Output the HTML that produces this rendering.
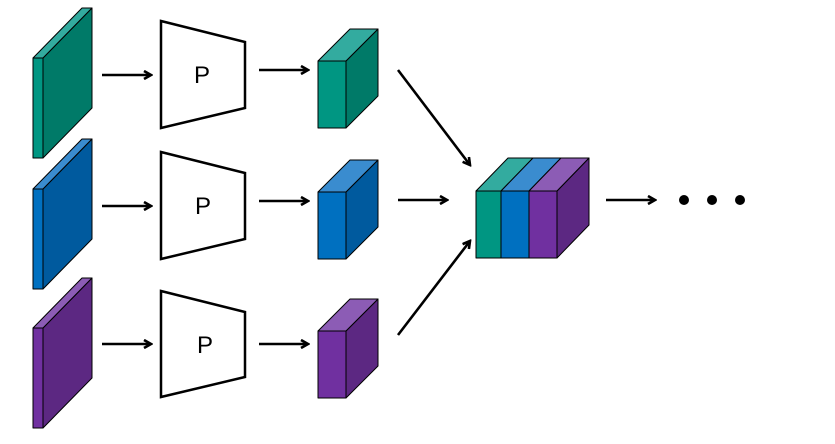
<!DOCTYPE html>
<html><head><meta charset="utf-8"><style>html,body{margin:0;padding:0;background:#fff}</style></head>
<body>
<svg width="835" height="439" viewBox="0 0 835 439" xmlns="http://www.w3.org/2000/svg">
<defs>
<marker id="ah" markerWidth="10" markerHeight="10" refX="8" refY="5" orient="auto" markerUnits="userSpaceOnUse">
<path d="M1,1 L8,5 L1,9" fill="none" stroke="#000" stroke-width="2.6"/>
</marker>
<g id="row" stroke="#000" stroke-width="1">
</g>
</defs>
<g stroke="#000" stroke-width="1" stroke-linejoin="round">
<!-- row 1 -->
<g transform="translate(0,0)">
<polygon points="43,58 92,8 92,108 43,158" fill="#007a68"/>
<polygon points="33,58 82,8 92,8 43,58" fill="#33ab9f"/>
<rect x="33" y="58" width="10" height="100" fill="#009682"/>
<polygon points="346,61 378,29 378,96 346,128" fill="#007a68"/>
<polygon points="318,61 350,29 378,29 346,61" fill="#33ab9f"/>
<rect x="318" y="61" width="28" height="67" fill="#009682"/>
</g>
<g transform="translate(0,131)">
<polygon points="43,58 92,8 92,108 43,158" fill="#005a9e"/>
<polygon points="33,58 82,8 92,8 43,58" fill="#3a8ccf"/>
<rect x="33" y="58" width="10" height="100" fill="#0070c0"/>
<polygon points="346,61 378,29 378,96 346,128" fill="#005a9e"/>
<polygon points="318,61 350,29 378,29 346,61" fill="#3a8ccf"/>
<rect x="318" y="61" width="28" height="67" fill="#0070c0"/>
</g>
<g transform="translate(0,270)">
<polygon points="43,58 92,8 92,108 43,158" fill="#5c2882"/>
<polygon points="33,58 82,8 92,8 43,58" fill="#8c5cb5"/>
<rect x="33" y="58" width="10" height="100" fill="#7030a0"/>
<polygon points="346,61 378,29 378,96 346,128" fill="#5c2882"/>
<polygon points="318,61 350,29 378,29 346,61" fill="#8c5cb5"/>
<rect x="318" y="61" width="28" height="67" fill="#7030a0"/>
</g>
<!-- concat block -->
<polygon points="557,191 589,158 589,225 557,258" fill="#5c2882"/>
<polygon points="476,191 508,158 533,158 501,191" fill="#33ab9f"/>
<polygon points="501,191 533,158 561,158 529,191" fill="#3a8ccf"/>
<polygon points="529,191 561,158 589,158 557,191" fill="#8c5cb5"/>
<rect x="476" y="191" width="25" height="67" fill="#009682"/>
<rect x="501" y="191" width="28" height="67" fill="#0070c0"/>
<rect x="529" y="191" width="28" height="67" fill="#7030a0"/>
</g>
<!-- trapezoids -->
<g fill="#fff" stroke="#000" stroke-width="2.5" stroke-linejoin="miter">
<polygon points="161,21 245,42 245,108 161,128"/>
<polygon points="161,152 245,173 245,239 161,259"/>
<polygon points="161,291 245,312 245,377 161,397"/>
</g>
<g font-family="Liberation Sans, sans-serif" font-size="24" text-anchor="middle">
<text x="202" y="83">P</text>
<text x="203" y="214">P</text>
<text x="205" y="353">P</text>
</g>
<!-- arrows -->
<g stroke="#000" stroke-width="2.6" marker-end="url(#ah)" fill="none">
<line x1="102" y1="75" x2="151" y2="75"/>
<line x1="259" y1="70" x2="308" y2="70"/>
<line x1="102" y1="206" x2="151" y2="206"/>
<line x1="259" y1="201" x2="308" y2="201"/>
<line x1="102" y1="344" x2="151" y2="344"/>
<line x1="259" y1="344" x2="308" y2="344"/>
<line x1="398" y1="70" x2="470" y2="165"/>
<line x1="398" y1="200" x2="447" y2="200"/>
<line x1="398" y1="335" x2="470" y2="241"/>
<line x1="606" y1="200" x2="655" y2="200"/>
</g>
<g fill="#000">
<circle cx="684" cy="200" r="5"/>
<circle cx="712" cy="200" r="5"/>
<circle cx="740" cy="200" r="5"/>
</g>
</svg>
</body></html>
